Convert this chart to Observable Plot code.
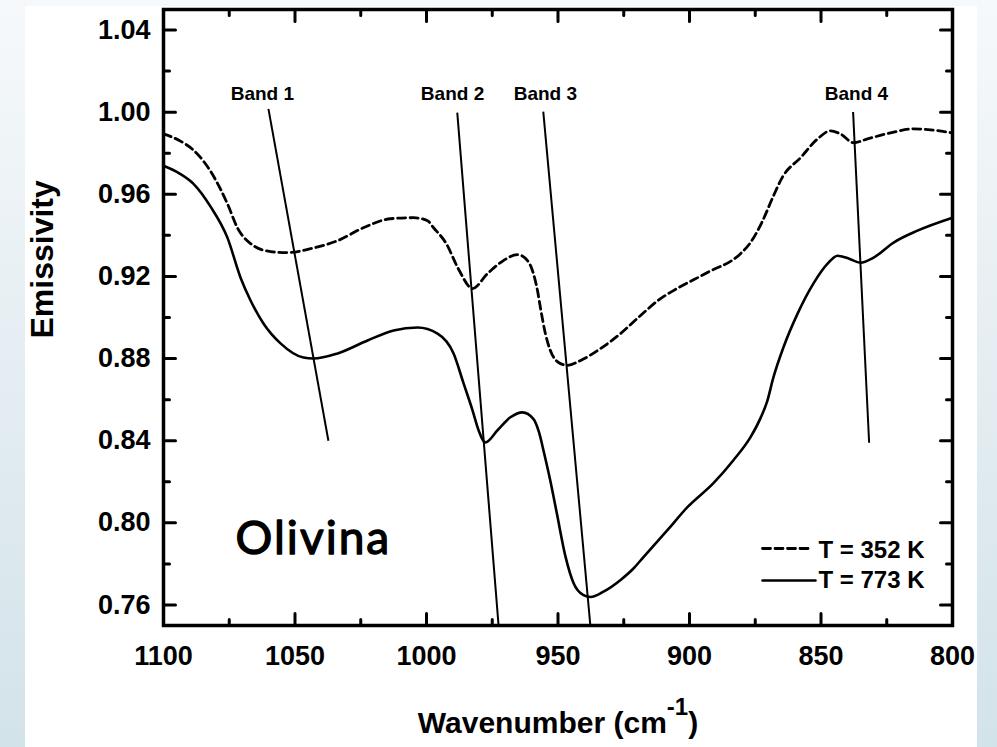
<!DOCTYPE html>
<html><head><meta charset="utf-8">
<script src="https://cdn.jsdelivr.net/npm/d3@7"></script>
<script src="https://cdn.jsdelivr.net/npm/@observablehq/plot@0.6"></script>
<style>
html,body{margin:0;padding:0;}
#page{position:relative;width:997px;height:747px;overflow:hidden;background:linear-gradient(to bottom,#f6f9fb 0%,#e4edf2 50%,#d3e3ea 100%);}
#panel{position:absolute;left:25px;top:6px;width:952px;height:741px;background:#fff;}
#chart{position:absolute;left:0;top:0;}
</style></head><body><div id="page"><div id="panel"></div><div id="chart"></div></div>
<script>
// ---- data ----
const seriesNames = ["T = 352 K", "T = 773 K"];

const wn352 = [1100,1094,1088.6,1082.1,1075.7,1071.9,1066.9,1059.3,1052.9,1044.1,1033.8,1024,1013.7,1004.9,999.6,997.3,992.5,987.8,982.5,976.8,971.9,965.4,961.6,959.7,957.8,956.7,954.8,952.9,949.8,946.4,941.4,933.8,926.2,918.6,911,906.1,893.2,880.6,876.8,872.2,868.4,864.6,857.8,851.3,846.4,842.6,837.6,832.3,823.6,814.8,808.4,800];
const em352 = [0.9894,0.9862,0.9815,0.9712,0.9554,0.9437,0.9360,0.9321,0.9316,0.9335,0.9374,0.9437,0.9481,0.9486,0.9471,0.9437,0.9360,0.9235,0.9141,0.9214,0.9267,0.9306,0.9277,0.9228,0.9131,0.9049,0.8922,0.8839,0.8781,0.8767,0.8791,0.8849,0.8922,0.9010,0.9092,0.9131,0.9219,0.9311,0.9365,0.9471,0.9583,0.9685,0.9778,0.9870,0.9909,0.9894,0.9851,0.9870,0.9899,0.9919,0.9914,0.9899];

const wn773 = [1100,1094,1088.6,1082.1,1075.7,1070.7,1066.9,1062,1055.5,1046.8,1043,1033.8,1022.4,1012.5,1003.4,995.8,989.7,985.9,982.5,980.2,977.6,973,968.1,963.5,959.3,957.2,955.3,953,950.5,947.1,944.1,940.3,937.6,932.7,926.2,921.5,917.5,908.4,900.8,890.9,883.3,876.8,873,870.5,868.1,864.3,858.9,852.9,847.5,843.7,839.5,835,830,822.4,813.3,800];
const em773 = [0.9739,0.9702,0.9651,0.9540,0.9389,0.9194,0.9083,0.8971,0.8874,0.8805,0.8800,0.8825,0.8888,0.8937,0.8951,0.8922,0.8825,0.8679,0.8548,0.8451,0.8392,0.8451,0.8514,0.8538,0.8505,0.8440,0.8340,0.8210,0.8050,0.7833,0.7707,0.7648,0.7639,0.7665,0.7722,0.7775,0.7833,0.7964,0.8076,0.8193,0.8305,0.8417,0.8510,0.8590,0.8708,0.8854,0.9019,0.9165,0.9262,0.9301,0.9287,0.9267,0.9292,0.9365,0.9423,0.9486];

const bandNames   = ["Band 1", "Band 2", "Band 3", "Band 4"];
const bandTopX    = [1060.1, 988.3, 955.6, 837.8];
const bandTopY    = [1.0016, 0.9998, 1.0003, 1.0001];
const bandBottomX = [1037.3, 972.6, 937.7, 831.7];
const bandBottomY = [0.840, 0.750, 0.750, 0.839];
const bandLabelX  = [1062.4, 990.1, 954.8, 836.5];
const bandLabelY  = [1.006, 1.006, 1.006, 1.006];

const sampleName = "Olivina";
const sampleX = 1043;
const sampleY = 0.785;

const xMajor = [1100, 1050, 1000, 950, 900, 850, 800];
const xMinor = [1075, 1025, 975, 925, 875, 825];
const yMajor = [0.76, 0.80, 0.84, 0.88, 0.92, 0.96, 1.00, 1.04];
const yMinor = [0.78, 0.82, 0.86, 0.90, 0.94, 0.98, 1.02];

const xLabel = "Wavenumber (cm-1)";
const yLabel = "Emissivity";

// ---- tables ----
const rows352 = wn352.map((x, i) => ({x, y: em352[i]}));
const rows773 = wn773.map((x, i) => ({x, y: em773[i]}));
const bands = bandNames.map((name, i) => ({name, x1: bandTopX[i], y1: bandTopY[i], x2: bandBottomX[i], y2: bandBottomY[i], lx: bandLabelX[i], ly: bandLabelY[i]}));
const sample = [{x: sampleX, y: sampleY, t: sampleName}];

// inward tick marks on all four sides (drawn as zero-head vectors)
const tk = {anchor: "start", shape: "arrow", r: 0, stroke: "black", strokeWidth: 3};
const tickMarks = [
  Plot.vector(xMajor, {...tk, x: d => d, frameAnchor: "bottom", rotate: 0, length: 12}),
  Plot.vector(xMinor, {...tk, x: d => d, frameAnchor: "bottom", rotate: 0, length: 6}),
  Plot.vector(xMajor, {...tk, x: d => d, frameAnchor: "top", rotate: 180, length: 12}),
  Plot.vector(xMinor, {...tk, x: d => d, frameAnchor: "top", rotate: 180, length: 6}),
  Plot.vector(yMajor, {...tk, y: d => d, frameAnchor: "left", rotate: 90, length: 12}),
  Plot.vector(yMinor, {...tk, y: d => d, frameAnchor: "left", rotate: 90, length: 6}),
  Plot.vector(yMajor, {...tk, y: d => d, frameAnchor: "right", rotate: -90, length: 12}),
  Plot.vector(yMinor, {...tk, y: d => d, frameAnchor: "right", rotate: -90, length: 6})
];

const chart = Plot.plot({
  width: 997,
  height: 747,
  marginLeft: 163,
  marginRight: 45,
  marginTop: 9,
  marginBottom: 122,
  style: {fontFamily: "'Liberation Sans', Arial, sans-serif", fontWeight: "bold", fontSize: "26px", background: "transparent", overflow: "visible", color: "black"},
  x: {domain: [1100, 800], label: null},
  y: {domain: [0.75, 1.05], label: null},
  marks: [
    Plot.line(rows352, {x: "x", y: "y", curve: "monotone-x", stroke: "black", strokeWidth: 2.8, strokeDasharray: "8,4.5"}),
    Plot.line(rows773, {x: "x", y: "y", curve: "monotone-x", stroke: "black", strokeWidth: 2.6}),
    Plot.link(bands, {x1: "x1", y1: "y1", x2: "x2", y2: "y2", stroke: "black", strokeWidth: 2}),
    Plot.text(bands, {x: "lx", y: "ly", text: "name", lineAnchor: "bottom", fontSize: 19}),
    Plot.text(sample, {x: "x", y: "y", text: "t", lineAnchor: "bottom", fontSize: 46, fontWeight: "normal", fontFamily: "Lato, 'Noto Sans', sans-serif", stroke: "black", strokeWidth: 1.3, fill: "black"}),
    // legend
    Plot.vector([0], {frameAnchor: "bottom-right", dx: -190, dy: -77, rotate: 90, length: 46, anchor: "start", shape: "arrow", r: 0, stroke: "black", strokeWidth: 2.8, strokeDasharray: "8,4.5"}),
    Plot.vector([0], {frameAnchor: "bottom-right", dx: -190, dy: -45, rotate: 90, length: 53, anchor: "start", shape: "arrow", r: 0, stroke: "black", strokeWidth: 2.6}),
    Plot.text([seriesNames[0]], {frameAnchor: "bottom-right", dx: -134, dy: -68, textAnchor: "start", lineAnchor: "bottom", fontSize: 24}),
    Plot.text([seriesNames[1]], {frameAnchor: "bottom-right", dx: -134, dy: -38, textAnchor: "start", lineAnchor: "bottom", fontSize: 24}),
    // axes
    ...tickMarks,
    Plot.axisX(xMajor, {anchor: "bottom", tickSize: 0, tickPadding: 20, fontSize: 27, tickFormat: d => String(d), label: null}),
    Plot.axisY(yMajor, {anchor: "left", tickSize: 0, tickPadding: 13, fontSize: 27, tickFormat: d3.format(".2f"), label: null}),
    Plot.text([xLabel], {frameAnchor: "bottom", dy: 107, lineAnchor: "bottom", fontSize: 30}),
    Plot.text([yLabel], {frameAnchor: "left", rotate: -90, dx: -111, dy: 21, lineAnchor: "bottom", fontSize: 32}),
    Plot.frame({stroke: "black", strokeWidth: 3.5})
  ]
});
document.getElementById("chart").appendChild(chart);

// superscript in the x label and letter spacing for the sample name
d3.select(chart).selectAll("text").each(function () {
  if (this.textContent === xLabel) {
    const t = d3.select(this);
    t.text(null);
    t.append("tspan").text("Wavenumber (cm");
    t.append("tspan").attr("dy", -18).attr("font-size", 24).text("-1");
    t.append("tspan").attr("dy", 18).text(")");
  } else if (this.textContent === sampleName) {
    d3.select(this).style("letter-spacing", "2px");
  }
});
</script></body></html>
